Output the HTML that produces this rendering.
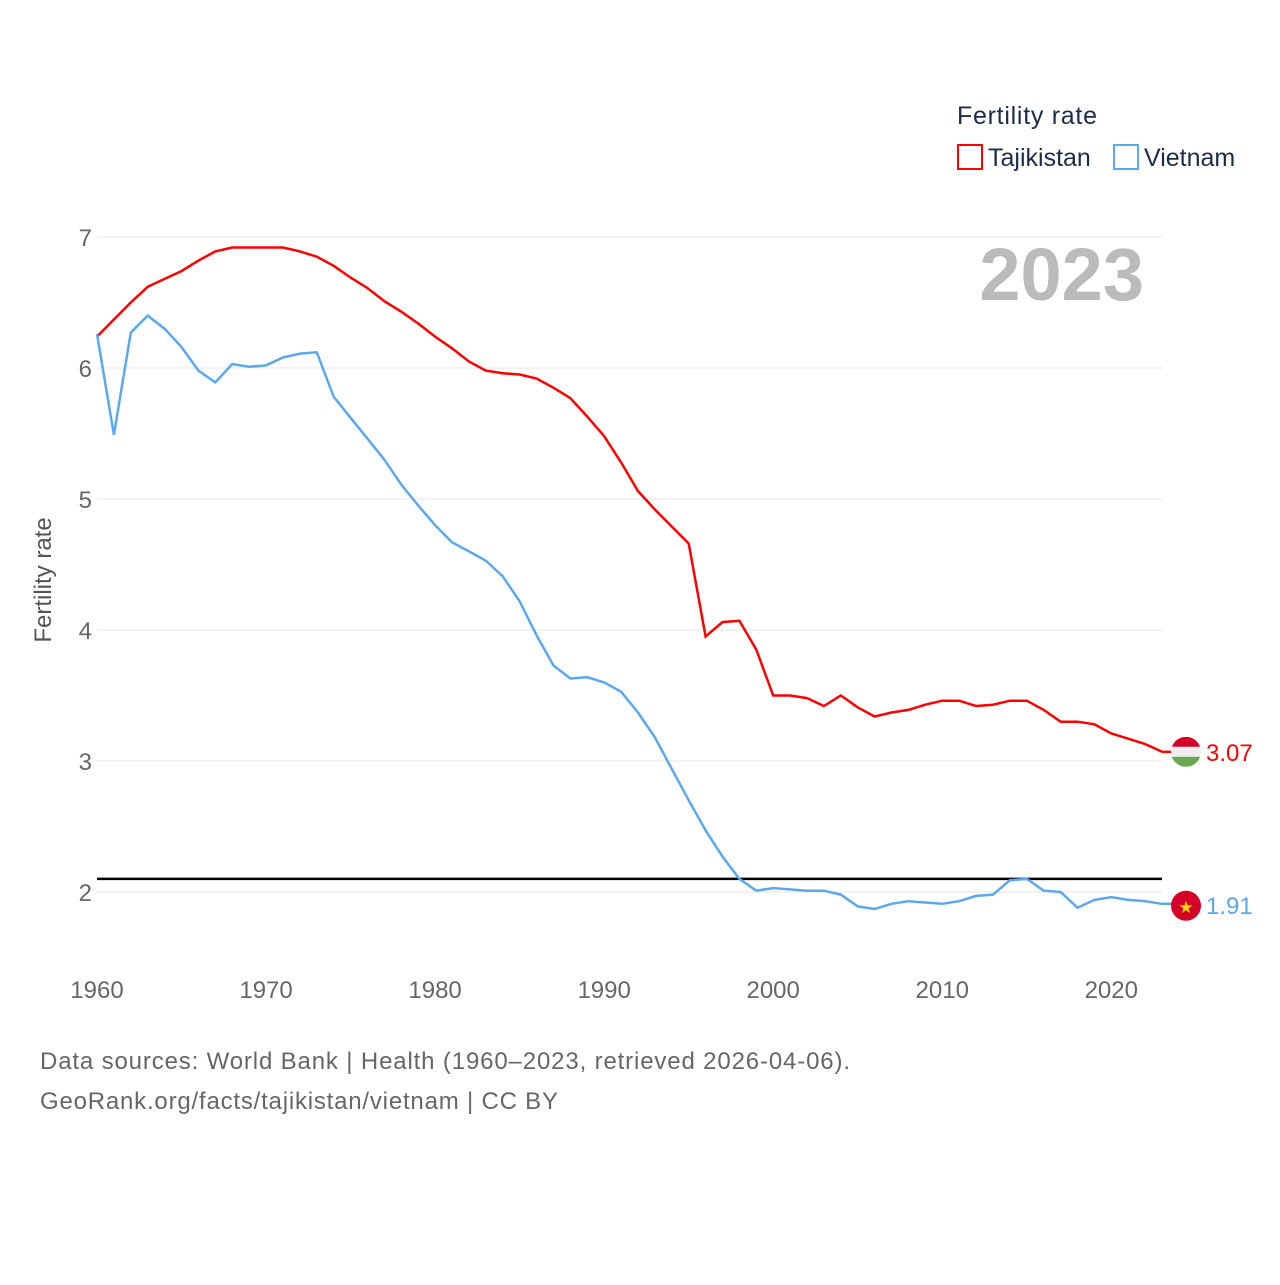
<!DOCTYPE html>
<html><head><meta charset="utf-8"><style>
body{margin:0;background:#fff;font-family:"Liberation Sans",sans-serif;}
svg text{font-family:"Liberation Sans",sans-serif;}
</style></head><body>
<svg id="chart" width="1280" height="1280" xmlns="http://www.w3.org/2000/svg">
<g id="grid"></g>
<g id="yticks"></g>
<g id="xticks"></g>
<text transform="translate(51,580) rotate(-90)" text-anchor="middle" font-size="24" fill="#555">Fertility rate</text>
<text x="1144" y="300" text-anchor="end" font-size="74" font-weight="bold" fill="#bbb">2023</text>
<line id="repl" stroke="#000" stroke-width="2.5"/>
<path id="lineT" fill="none" stroke="#f00" stroke-width="2.5"/>
<path id="lineV" fill="none" stroke="#5ba8f0" stroke-width="2.5"/>
<g id="ends"></g>
<g>
<text x="957" y="124" font-size="25" fill="#1d2b4a" textLength="140">Fertility rate</text>
<rect x="958" y="145" width="24" height="24" fill="none" stroke="#f00" stroke-width="2"/>
<text x="988" y="166" font-size="25" fill="#1d2b4a">Tajikistan</text>
<rect x="1114" y="145" width="24" height="24" fill="none" stroke="#5ba8f0" stroke-width="2"/>
<text x="1144" y="166" font-size="25" fill="#1d2b4a">Vietnam</text>
</g>
<text x="40" y="1069" font-size="24" fill="#666" textLength="810">Data sources: World Bank | Health (1960–2023, retrieved 2026-04-06).</text>
<text x="40" y="1109" font-size="24" fill="#666" textLength="518">GeoRank.org/facts/tajikistan/vietnam | CC BY</text>
</svg>
<script>
const years=[];for(let y=1960;y<=2023;y++)years.push(y);
const tajikistan=[6.24,6.37,6.50,6.62,6.68,6.74,6.82,6.89,6.92,6.92,6.92,6.92,6.89,6.85,6.78,6.69,6.61,6.51,6.43,6.34,6.24,6.15,6.05,5.98,5.96,5.95,5.92,5.85,5.77,5.63,5.48,5.28,5.06,4.92,4.79,4.66,3.95,4.06,4.07,3.85,3.50,3.50,3.48,3.42,3.50,3.41,3.34,3.37,3.39,3.43,3.46,3.46,3.42,3.43,3.46,3.46,3.39,3.30,3.30,3.28,3.21,3.17,3.13,3.07];
const vietnam=[6.26,5.49,6.27,6.40,6.30,6.16,5.98,5.89,6.03,6.01,6.02,6.08,6.11,6.12,5.78,5.62,5.46,5.30,5.11,4.95,4.80,4.67,4.60,4.53,4.41,4.22,3.96,3.73,3.63,3.64,3.60,3.53,3.37,3.18,2.94,2.70,2.47,2.27,2.10,2.01,2.03,2.02,2.01,2.01,1.98,1.89,1.87,1.91,1.93,1.92,1.91,1.93,1.97,1.98,2.09,2.10,2.01,2.00,1.88,1.94,1.96,1.94,1.93,1.91];
const yTicks=[2,3,4,5,6,7];
const xTicks=[1960,1970,1980,1990,2000,2010,2020];
const replacementRate=2.1;
const X=y=>97+(y-1960)*(1162-97)/63;
const Y=v=>892-(v-2)*131;
const NS='http://www.w3.org/2000/svg';
function mk(tag,attrs,parent,txt){const e=document.createElementNS(NS,tag);for(const k in attrs)e.setAttribute(k,attrs[k]);if(txt!==undefined)e.textContent=txt;parent.appendChild(e);return e;}
const grid=document.getElementById('grid'),yt=document.getElementById('yticks'),xt=document.getElementById('xticks');
yTicks.forEach(t=>{
 const l=mk('line',{x1:97,x2:1162,y1:Y(t),y2:Y(t),stroke:'#e6e6e6','stroke-width':1},grid);
 
 
 const tx=mk('text',{x:92,y:Y(t)+9,'text-anchor':'end','font-size':24,fill:'#666'},yt,String(t));
 
 
});
xTicks.forEach(t=>{
 const tx=mk('text',{x:X(t),y:998,'text-anchor':'middle','font-size':24,fill:'#666'},xt,String(t));
 
 
});
const r=document.getElementById('repl');
r.setAttribute('x1',X(1960));r.setAttribute('x2',X(2023));r.setAttribute('y1',Y(replacementRate));r.setAttribute('y2',Y(replacementRate));
const pathOf=a=>a.map((v,i)=>(i?'L':'M')+X(years[i]).toFixed(1)+','+Y(v).toFixed(1)).join('');
document.getElementById('lineT').setAttribute('d',pathOf(tajikistan));
document.getElementById('lineV').setAttribute('d',pathOf(vietnam));
const ends=document.getElementById('ends');
const lt=tajikistan[tajikistan.length-1],lv=vietnam[vietnam.length-1];
const g1=mk('g',{},ends);


mk('line',{x1:X(2023),x2:1172,y1:Y(lt),y2:Y(lt),stroke:'#f00','stroke-width':2.5},g1);
mk('clipPath',{id:'cT'},g1);
const cp=g1.lastChild;mk('circle',{cx:1186,cy:Y(lt),r:15},cp);
const fg=mk('g',{'clip-path':'url(#cT)'},g1);
mk('rect',{x:1171,y:Y(lt)-15,width:30,height:10,fill:'#d4002a'},fg);
mk('rect',{x:1171,y:Y(lt)-5,width:30,height:10,fill:'#eee'},fg);
mk('rect',{x:1171,y:Y(lt)+5,width:30,height:10,fill:'#6aa84f'},fg);
const t1=mk('text',{x:1206,y:Y(lt)+9,'font-size':24,fill:'#f00'},g1,lt.toFixed(2));


const g2=mk('g',{},ends);


mk('line',{x1:X(2023),x2:1172,y1:Y(lv),y2:Y(lv),stroke:'#5ba8f0','stroke-width':2.5},g2);
mk('circle',{cx:1186,cy:Y(lv)+2,r:15,fill:'#d4002a'},g2);
mk('text',{x:1186,y:Y(lv)+9,'text-anchor':'middle','font-size':17,fill:'#ffd700'},g2,'★');
const t2=mk('text',{x:1206,y:Y(lv)+10,'font-size':24,fill:'#5ba8f0'},g2,lv.toFixed(2));


</script>
</body></html>
